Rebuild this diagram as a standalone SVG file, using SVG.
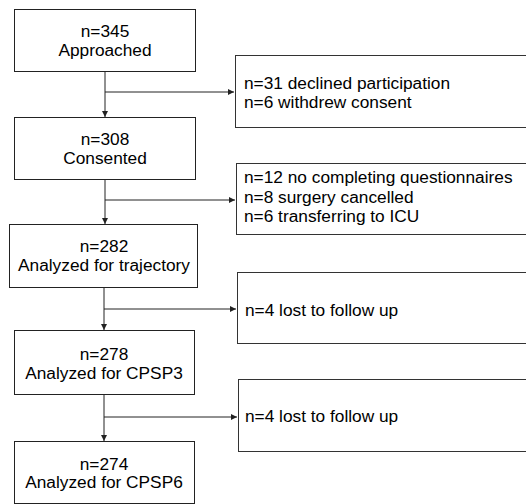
<svg xmlns="http://www.w3.org/2000/svg" width="526" height="504" viewBox="0 0 526 504">
<defs>
<style>
.box{fill:#fff;stroke:#222;stroke-width:1}
.side{fill:#fff;stroke:#333;stroke-width:1}
.t{font-family:"Liberation Sans",Arial,sans-serif;font-size:17.3px;fill:#000}
.c{text-anchor:middle}
.ln{stroke:#222;stroke-width:1;fill:none}
</style>
<marker id="ah" viewBox="0 0 10 10" refX="10" refY="5" markerWidth="6" markerHeight="6" orient="auto" markerUnits="userSpaceOnUse">
<path d="M0,0 L10,5 L0,10 z" fill="#222"/>
</marker>
</defs>
<rect width="526" height="504" fill="#fff"/>
<g id="connectors">
<line class="ln" x1="105" y1="71" x2="105" y2="117" marker-end="url(#ah)"/>
<line class="ln" x1="105" y1="92" x2="234" y2="92" marker-end="url(#ah)"/>
<line class="ln" x1="105" y1="179" x2="105" y2="224" marker-end="url(#ah)"/>
<line class="ln" x1="105" y1="200" x2="235" y2="200" marker-end="url(#ah)"/>
<line class="ln" x1="104" y1="287" x2="104" y2="330" marker-end="url(#ah)"/>
<line class="ln" x1="104" y1="309" x2="236" y2="309" marker-end="url(#ah)"/>
<line class="ln" x1="104" y1="395" x2="104" y2="441" marker-end="url(#ah)"/>
<line class="ln" x1="104" y1="417" x2="237" y2="417" marker-end="url(#ah)"/>
</g>
<g id="approached">
<rect class="box" x="14.5" y="9.5" width="181" height="62"/>
<text class="t c" x="105" y="37">n=345</text>
<text class="t c" x="105" y="56">Approached</text>
</g>
<g id="excluded1">
<rect class="side" x="235.5" y="55.5" width="300" height="72"/>
<text class="t" x="244" y="89">n=31 declined participation</text>
<text class="t" x="244" y="108">n=6 withdrew consent</text>
</g>
<g id="consented">
<rect class="box" x="14.5" y="117.5" width="181" height="62"/>
<text class="t c" x="105" y="145">n=308</text>
<text class="t c" x="105" y="164">Consented</text>
</g>
<g id="excluded2">
<rect class="side" x="236.5" y="163.5" width="300" height="71"/>
<text class="t" x="244" y="183">n=12 no completing questionnaires</text>
<text class="t" x="244" y="203">n=8 surgery cancelled</text>
<text class="t" x="244" y="222">n=6 transferring to ICU</text>
</g>
<g id="trajectory">
<rect class="box" x="9.5" y="224.5" width="188" height="63"/>
<text class="t c" x="104" y="252">n=282</text>
<text class="t c" x="104" y="271">Analyzed for trajectory</text>
</g>
<g id="lost1">
<rect class="side" x="237.5" y="272.5" width="300" height="71"/>
<text class="t" x="245" y="316">n=4 lost to follow up</text>
</g>
<g id="cpsp3">
<rect class="box" x="14.5" y="330.5" width="180" height="64"/>
<text class="t c" x="104" y="360">n=278</text>
<text class="t c" x="104" y="379">Analyzed for CPSP3</text>
</g>
<g id="lost2">
<rect class="side" x="238.5" y="379.5" width="300" height="72"/>
<text class="t" x="245" y="422">n=4 lost to follow up</text>
</g>
<g id="cpsp6">
<rect class="box" x="14.5" y="441.5" width="180" height="62"/>
<text class="t c" x="104" y="470">n=274</text>
<text class="t c" x="104" y="488">Analyzed for CPSP6</text>
</g>
</svg>
